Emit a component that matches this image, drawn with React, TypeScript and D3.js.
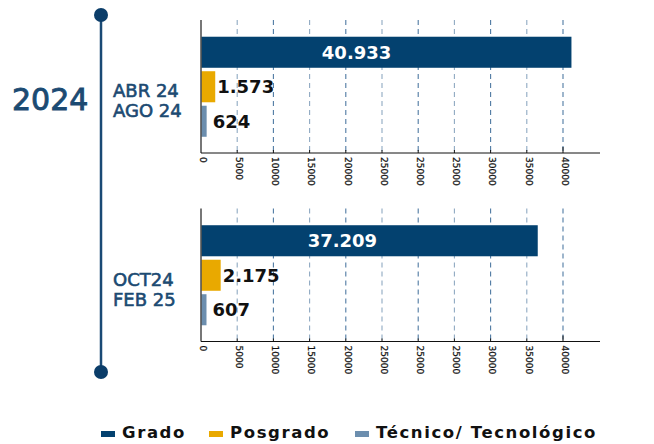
import React from 'react';
import * as d3 from 'd3';

// data
const series = ['Grado', 'Posgrado', 'Técnico/ Tecnológico'];
const periods = [['ABR 24', 'AGO 24'], ['OCT24', 'FEB 25']];
const grado = [40933, 37209];
const posgrado = [1573, 2175];
const tecnico = [624, 607];
const tickLabels = ['0', '5000', '10000', '15000', '20000', '25000', '25000', '25000', '30000', '35000', '40000'];
const yearLabel = '2024';

const colors = ['#03416f', '#e9a900', '#6c8eae'];
const navy = '#0b3d69';
const textBlue = '#1c4a72';
const font = 'DejaVu Sans, sans-serif';

const fmt = d3.formatLocale({ decimal: ',', thousands: '.', grouping: [3], currency: ['', ''] }).format(',');

const x = d3.scaleLinear().domain([0, 40000]).range([201, 563]);
const tickValues = tickLabels.map((_, i) => i * 4000);

const Panel = ({ idx, offset }: { idx: number; offset: number }) => {
    const values = [grado[idx], posgrado[idx], tecnico[idx]];
    const y = d3.scaleBand().domain(series).range([offset + 35, offset + 138.5]).paddingInner(0.1).paddingOuter(0.05);
    const top = offset + 20;
    const axisY = offset + 153;

    return (
        <g>
            {tickValues.slice(1).map((t, i) => (
                <line key={'g' + i} x1={x(t)} x2={x(t)} y1={top} y2={axisY}
                    stroke={i % 2 ? '#4f7aa3' : '#8fa9c2'} strokeWidth={1.1} strokeDasharray="5,4" />
            ))}
            {values.map((v, i) => (
                <rect key={'b' + i} x={x(0)} y={y(series[i])} width={x(v) - x(0)}
                    height={y.bandwidth()} fill={colors[i]} />
            ))}
            <line x1={201} x2={201} y1={top} y2={axisY} stroke="#555" strokeWidth={1.6} />
            <line x1={201} x2={600} y1={axisY} y2={axisY} stroke="#111" strokeWidth={1} />
            {tickValues.slice(1).map((t, i) => (
                <line key={'t' + i} x1={x(t)} x2={x(t)} y1={axisY - (i === 9 ? 6 : 3)} y2={axisY} stroke="#111" strokeWidth={1} />
            ))}
            {tickValues.map((t, i) => (
                <text key={'l' + i} transform={`translate(${x(t) + 2},${axisY + 4}) rotate(90)`}
                    dy="0.35em" fontSize={9} fontFamily={font} fill="#111" stroke="#111" strokeWidth={0.25}>{tickLabels[i]}</text>
            ))}
            {values.map((v, i) => {
                const cy = (y(series[i]) as number) + y.bandwidth() / 2;
                return i === 0 ? (
                    <text key={'v' + i} x={x(v * 0.42)} y={cy} textAnchor="middle" dominantBaseline="central"
                        fill="#fff" fontSize={18} fontWeight="bold" fontFamily={font}>{fmt(v)}</text>
                ) : (
                    <text key={'v' + i} x={x(v) + (i === 1 ? 2 : 6)} y={cy} dominantBaseline="central"
                        fill="#111" fontSize={18} fontWeight="bold" fontFamily={font}>{fmt(v)}</text>
                );
            })}
            {periods[idx].map((p, i) => (
                <text key={'p' + i} x={113} y={offset + 97 + i * 20} fill={textBlue} stroke={textBlue} strokeWidth={0.6}
                    fontSize={18} fontFamily={font}>{p}</text>
            ))}
        </g>
    );
};

const legendX = [101, 209, 355];

export default function App() {
    return (
        <svg width={654} height={444} style={{ position: 'absolute', left: 0, top: 0, background: '#fff' }}>
            <line x1={101} x2={101} y1={15} y2={372} stroke="#1a4a75" strokeWidth={2.5} />
            <circle cx={101} cy={15} r={7} fill={navy} />
            <circle cx={101} cy={372} r={7} fill={navy} />
            <text x={12} y={110} fill={textBlue} stroke={textBlue} strokeWidth={0.9} fontSize={30} fontFamily={font}>{yearLabel}</text>
            <Panel idx={0} offset={0} />
            <Panel idx={1} offset={188.5} />
            {series.map((s, i) => (
                <g key={s}>
                    <rect x={legendX[i]} y={431} width={14} height={6} fill={colors[i]} />
                    <text x={legendX[i] + 21} y={437.5} fill="#111" fontSize={16.5} fontWeight="bold"
                        letterSpacing={1.6} fontFamily={font}>{s}</text>
                </g>
            ))}
        </svg>
    );
}
